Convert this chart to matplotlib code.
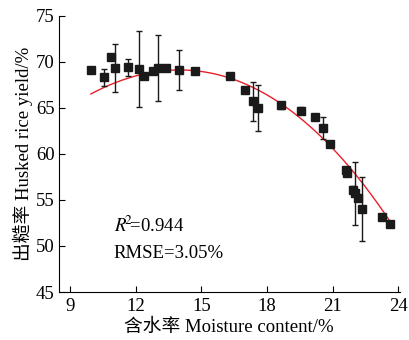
import numpy as np
import matplotlib
matplotlib.use('Agg')
import matplotlib.pyplot as plt

plt.rcParams['font.family'] = ['Liberation Serif', 'Noto Sans CJK SC']
plt.rcParams['mathtext.fontset'] = 'stix'

# moisture content (%), husked rice yield (%), error bar half-length
moisture = [9.96, 10.55, 10.9, 11.06, 11.64, 12.14, 12.4, 12.81, 13.04, 13.4,
            13.98, 14.7, 16.3, 17.0, 17.38, 17.6, 18.65, 19.56, 20.17, 20.55,
            20.89, 21.62, 21.65, 21.93, 22.0, 22.14, 22.34, 23.25, 23.6]
yield_ = [69.1, 68.3, 70.5, 69.3, 69.4, 69.2, 68.5, 68.95, 69.3, 69.3,
          69.1, 68.95, 68.5, 66.95, 65.7, 65.0, 65.25, 64.7, 64.0, 62.8,
          61.1, 58.3, 57.9, 56.1, 55.7, 55.2, 54.0, 53.1, 52.4]
err = [0.3, 0.9, 0.3, 2.6, 0.9, 4.1, 0.3, 0.3, 3.6, 0.2,
       2.2, 0.2, 0.2, 0.2, 2.1, 2.5, 0.4, 0.4, 0.3, 1.2,
       0.3, 0.3, 0.3, 0.4, 3.4, 0.3, 3.5, 0.3, 0.3]

# fitted curve, values
fit_x = [9.96, 12.2, 14.03, 15.4, 16.77, 18.6, 20.88, 22.25, 23.59]
fit_y = [66.57, 68.37, 69.17, 69.0, 67.65, 65.5, 61.1, 56.8, 52.9]

coef = np.polyfit(fit_x, fit_y, 3)
xf = np.linspace(fit_x[0], fit_x[-1], 200)
yf = np.polyval(coef, xf)

fs = 13.5
fig = plt.figure(figsize=(4.09, 3.4), dpi=100)
ax = fig.add_axes([0.144, 0.141, 0.833, 0.813])

ax.plot(xf, yf, color='#e8202a', lw=1.0, zorder=3)
ax.errorbar(moisture, yield_, yerr=err, fmt='s', color='#1a1a1a', ms=6,
            ecolor='#1a1a1a', elinewidth=1.0, capsize=2.5, capthick=1.0, zorder=4)

ax.set_xlim(8.5, 24.05)
ax.set_ylim(45, 75)
ax.set_xticks([9, 12, 15, 18, 21, 24])
ax.set_yticks([45, 50, 55, 60, 65, 70, 75])
ax.spines['top'].set_visible(False)
ax.spines['right'].set_visible(False)
ax.tick_params(direction='in', length=4, labelsize=fs)
ax.tick_params(axis='x', pad=4)
ax.tick_params(axis='y', pad=3)

ax.set_xlabel('含水率 Moisture content/%', fontsize=fs, labelpad=3)
ax.set_ylabel('出糙率 Husked rice yield/%', fontsize=fs, labelpad=2)

ax.text(11.0, 51.5, r'$R^{\!\!2}\!$=0.944', fontsize=fs)
ax.text(11.0, 48.7, 'RMSE=3.05%', fontsize=fs)

fig.savefig('out.png', dpi=100)
